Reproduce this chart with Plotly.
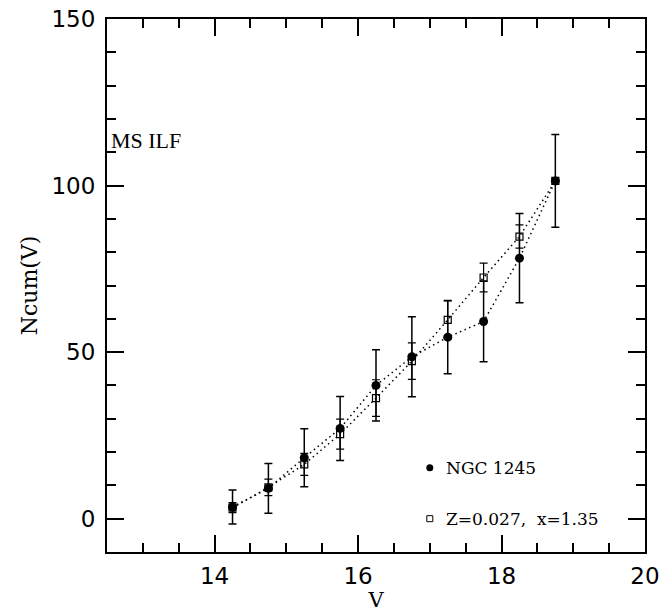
import plotly.graph_objects as go

# Data
V = [14.25, 14.75, 15.25, 15.75, 16.25, 16.75, 17.25, 17.75, 18.25, 18.75]
ngc = [3.5, 9.1, 18.3, 27.1, 40.0, 48.6, 54.5, 59.2, 78.2, 101.4]
ngc_err = [5.1, 7.5, 8.7, 9.6, 10.7, 12.0, 11.0, 12.1, 13.4, 13.9]
model = [3.3, 9.4, 16.3, 25.4, 36.2, 47.3, 59.7, 72.4, 84.7, 101.4]
model_err = [1.5, 2.5, 3.3, 4.5, 5.5, 5.5, 5.7, 4.3, 3.5, 0.0]

legend_labels = ["NGC 1245", "Z=0.027,  x=1.35"]
legend_x = [17.0, 17.0]
legend_y = [15.3, 0.0]

serif = "DejaVu Serif"
sans = "DejaVu Sans"

fig = go.Figure()

fig.add_trace(go.Scatter(
    x=V, y=model, mode="lines+markers",
    line=dict(color="black", width=1.5, dash="1.5px,3.5px"),
    marker=dict(symbol="square-open", size=7, color="black", line=dict(width=1.2)),
    error_y=dict(type="data", array=model_err, color="black", thickness=1.2, width=4),
    showlegend=False,
))
fig.add_trace(go.Scatter(
    x=V, y=ngc, mode="lines+markers",
    line=dict(color="black", width=1.5, dash="1.5px,3.5px"),
    marker=dict(symbol="circle", size=9, color="black"),
    error_y=dict(type="data", array=ngc_err, color="black", thickness=1.5, width=4),
    showlegend=False,
))

# legend-like keys
fig.add_trace(go.Scatter(x=[legend_x[0]], y=[legend_y[0]], mode="markers",
                         marker=dict(symbol="circle", size=7, color="black"), showlegend=False))
fig.add_trace(go.Scatter(x=[legend_x[1]], y=[legend_y[1]], mode="markers",
                         marker=dict(symbol="square-open", size=6, color="black", line=dict(width=1)),
                         showlegend=False))
for lx, ly, lab in zip(legend_x, legend_y, legend_labels):
    fig.add_annotation(x=lx + 0.2, y=ly, text=lab, showarrow=False, xanchor="left",
                       yanchor="middle", font=dict(family=serif, size=17, color="black"))

fig.add_annotation(x=12.53, y=113.5, text="MS ILF", showarrow=False, xanchor="left",
                   yanchor="middle", font=dict(family="Liberation Serif", size=22, color="black"))

axis_common = dict(
    showline=True, linecolor="black", linewidth=2, mirror="ticks",
    ticks="inside", ticklen=17, tickwidth=1.5, tickcolor="black",
    showgrid=False, zeroline=False, automargin=False,
    ticklabeloverflow="allow",
    tickfont=dict(family=sans, size=23, color="black"),
)

fig.update_xaxes(
    range=[12.5, 20], tick0=0, dtick=2,
    minor=dict(ticks="inside", ticklen=9, tickwidth=1.5, tickcolor="black", dtick=0.5, tick0=0, showgrid=False),
    title=dict(text="V", font=dict(family=serif, size=21, color="black"), standoff=0),
    ticklabelstandoff=2,
    **axis_common,
)
fig.update_yaxes(
    range=[-10, 150], tick0=0, dtick=50,
    minor=dict(ticks="inside", ticklen=9, tickwidth=1.5, tickcolor="black", dtick=10, tick0=0, showgrid=False),
    title=dict(text="Ncum(V)", font=dict(family=serif, size=22, color="black"), standoff=8),
    ticklabelstandoff=5,
    **axis_common,
)

fig.update_layout(
    width=662, height=612,
    margin=dict(l=107, r=17, t=19, b=60),
    plot_bgcolor="white", paper_bgcolor="white",
)

fig.write_html(
    "out.html",
    config={"displayModeBar": False},
    post_script="document.body.style.margin='0';document.body.style.overflow='hidden';",
)
